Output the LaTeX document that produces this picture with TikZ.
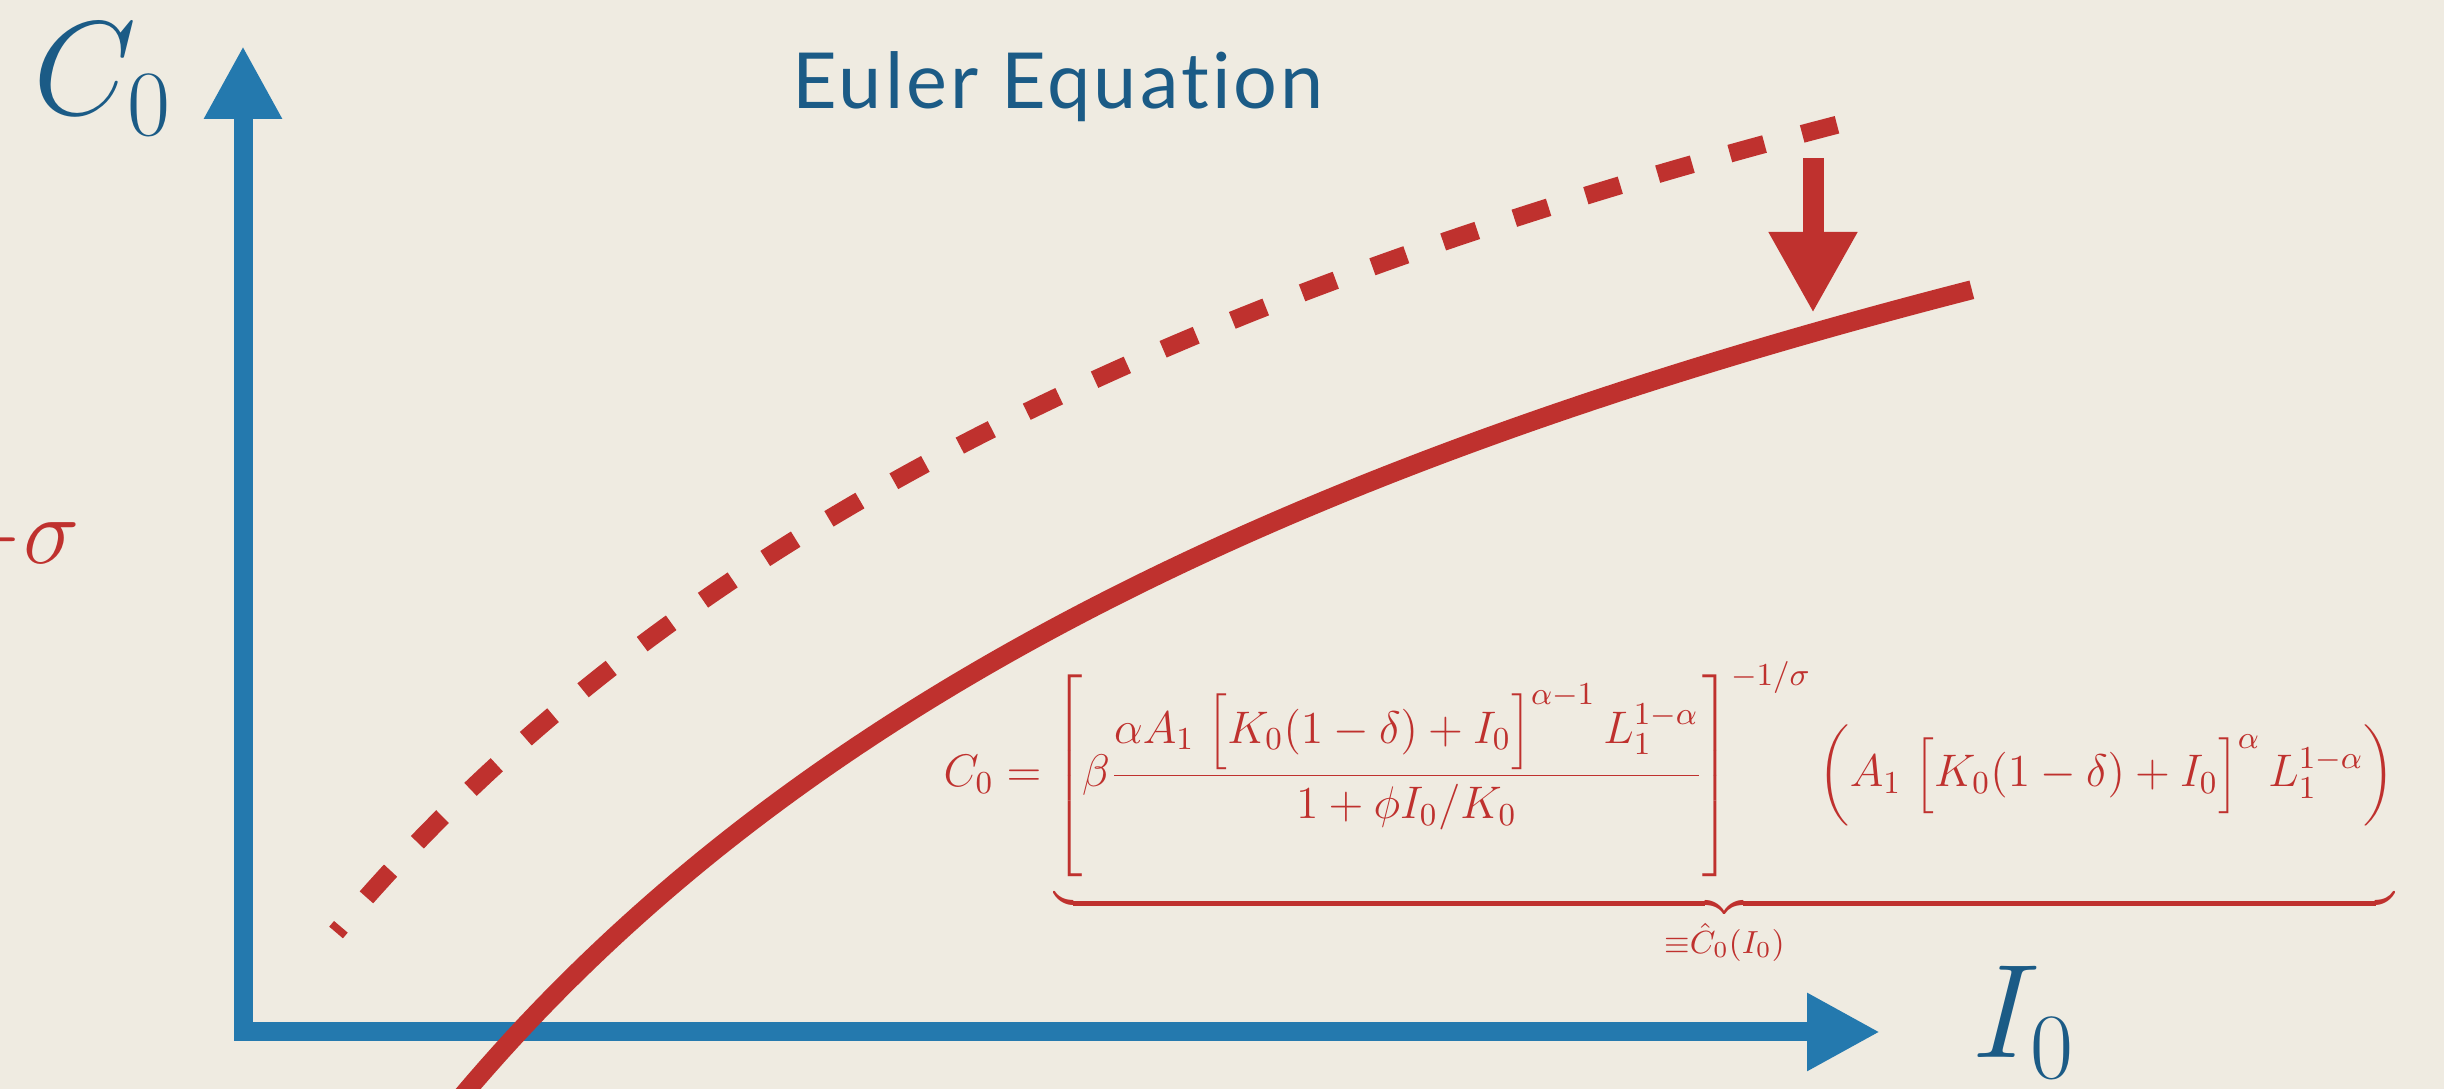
\RequirePackage{fix-cm}
\documentclass[tikz,border=0pt]{standalone}
\usepackage{amsmath}
\usepackage{fontspec}
\newfontfamily\titlefont[Ligatures=NoCommon, LetterSpace=4]{Lato}
\usetikzlibrary{arrows.meta}

\definecolor{paper}{HTML}{EFEBE1}
\definecolor{axisblue}{HTML}{2479AE}
\definecolor{labelblue}{HTML}{1B5B86}
\definecolor{curvered}{HTML}{BF312E}
\newcommand{\bracketstrut}{\rule[-0.81cm]{0pt}{1.85cm}}
\newcommand{\bracedrop}{\rule[-1.03cm]{0pt}{1.03cm}}

\begin{document}
\begin{tikzpicture}[>={Triangle[length=7.3mm,width=7.3mm]},
    axis/.style={draw=axisblue, line width=1.9mm, line join=miter, <->},
    curve/.style={draw=curvered, line width=1.9mm},
    oldcurve/.style={draw=curvered, line width=1.8mm, dash pattern=on 3.6mm off 3.9mm},
    shiftarrow/.style={draw=curvered, line width=2.1mm, -{Triangle[length=8.1mm,width=8.3mm]}},
    axislabel/.style={text=labelblue, inner sep=0pt, font=\fontsize{38}{40}\selectfont},
    eqn/.style={text=curvered, inner sep=0pt, font=\fontsize{13.0}{16}\selectfont}]

    \useasboundingbox (0,0) rectangle (24.44,10.89);
    \fill[paper] (0,0) rectangle (24.44,10.89);

    \coordinate (origin) at (2.43,0.57);
    \coordinate (ytip) at (2.43,10.43);
    \coordinate (xtip) at (18.80,0.57);
    \coordinate (shifttop) at (18.13,9.31);
    \coordinate (shiftend) at (18.13,7.76);

    \draw[axis] (ytip) -- (origin) -- (xtip);

    \draw[oldcurve] plot[domain=18.37:3.36, samples=120] (\x, {21.87 - 59.34/sqrt(\x+5.18)});
    \draw[curve] plot[domain=4.62:19.72, samples=120] (\x, {20.12 - 58.94/sqrt(\x+3.9)});
    \draw[shiftarrow] (shifttop) -- (shiftend);

    \node[axislabel, anchor=base west] (ylab) at (0.33,9.74) {$C_0$};
    \node[axislabel, anchor=base west] (xlab) at (19.72,0.31) {$I_0$};
    \node[text=labelblue, inner sep=0pt, anchor=base west,
          font=\titlefont\fontsize{22}{26}\selectfont] (title) at (7.92,9.80) {Euler Equation};
    \node[text=curvered, inner sep=0pt, anchor=base east,
          font=\fontsize{27}{30}\selectfont] (sig) at (0.80,5.25) {$-\sigma$};

    \node[eqn, anchor=base west] (eq) at (9.43,3.02)
        {\delimiterfactor=1000 \delimitershortfall=0pt
         $\displaystyle C_0 = \underbrace{\left[\beta\frac{\alpha A_1\;\bigl[K_0(1-\delta)+I_0\bigr]^{\alpha-1}\,L_1^{1-\alpha}}{1+\phi I_0/K_0}\bracketstrut\right]^{-1/\sigma}
         \Bigl(A_1\;\bigl[K_0(1-\delta)+I_0\bigr]^{\alpha}\,L_1^{1-\alpha}\Bigr)\bracedrop}_{\equiv\hat{C}_0(I_0)}$};
\end{tikzpicture}
\end{document}
